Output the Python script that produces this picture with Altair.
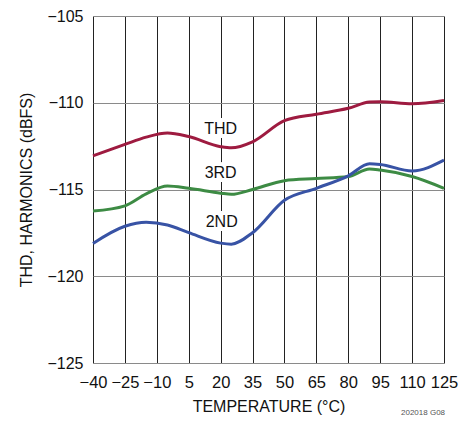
import altair as alt
import pandas as pd

temps = [-40, -25, -15, -5, 5, 20, 25, 35, 50, 65, 80, 90, 95, 110, 125]
thd = [-113.06, -112.40, -111.98, -111.74, -111.95, -112.53, -112.60, -112.25,
       -111.03, -110.66, -110.32, -109.96, -109.94, -110.06, -109.87]
third = [-116.24, -115.94, -115.25, -114.80, -114.93, -115.21, -115.28, -115.00,
         -114.49, -114.37, -114.25, -113.82, -113.88, -114.25, -114.93]
second = [-118.11, -117.12, -116.89, -117.05, -117.49, -118.09, -118.15, -117.49,
          -115.62, -114.93, -114.21, -113.52, -113.56, -113.93, -113.31]

series_names = ["THD", "3RD", "2ND"]
series_colors = ["#9e1b40", "#3d8b44", "#3853a5"]
x_ticks = [-40, -25, -10, 5, 20, 35, 50, 65, 80, 95, 110, 125]
y_ticks = [-125, -120, -115, -110, -105]

label_names = ["THD", "3RD", "2ND"]
label_x = [20, 20, 20.5]
label_y = [-111.5, -114.07, -116.88]

footnote = ["202018 G08"]

rows = []
for name, vals in zip(series_names, [thd, third, second]):
    for t, v in zip(temps, vals):
        rows.append({"series": name, "temp": t, "value": v})
df = pd.DataFrame(rows)
labels = pd.DataFrame({"name": label_names, "x": label_x, "y": label_y})
foot = pd.DataFrame({"t": footnote})

FONT = "Liberation Sans"

xscale = alt.Scale(domain=[-40, 125], nice=False, zero=False)
yscale = alt.Scale(domain=[-125, -105], nice=False, zero=False)

x_axis = alt.Axis(values=x_ticks, title="TEMPERATURE (°C)", grid=True,
                  gridColor="#222222", gridWidth=1, ticks=False, domain=False,
                  labelOverlap=False, labelFlush=False, labelBound=False,
                  labelPadding=11, titlePadding=8, labelFontSize=16.5,
                  titleFontSize=16, labelColor="#111", titleColor="#111",
                  titleFontWeight="normal", labelFont=FONT, titleFont=FONT)
y_axis = alt.Axis(values=y_ticks, title="THD, HARMONICS (dBFS)", grid=True,
                  gridColor="#8a8a8a", gridWidth=1.2, ticks=False, domain=False,
                  labelOverlap=False, labelFlush=False, labelBound=False,
                  labelPadding=10, titlePadding=12, labelFontSize=16,
                  titleFontSize=16, labelColor="#111", titleColor="#111",
                  titleFontWeight="normal", labelFont=FONT, titleFont=FONT)

lines = alt.Chart(df).mark_line(strokeWidth=3, interpolate="monotone").encode(
    x=alt.X("temp:Q", scale=xscale, axis=x_axis),
    y=alt.Y("value:Q", scale=yscale, axis=y_axis),
    color=alt.Color("series:N", scale=alt.Scale(domain=series_names, range=series_colors),
                    legend=None),
    detail="series:N",
)

halo = alt.Chart(labels).mark_text(fontSize=16, font=FONT, stroke="white", strokeWidth=8,
                                   fill="white", baseline="middle").encode(
    x=alt.X("x:Q", scale=xscale, axis=x_axis), y=alt.Y("y:Q", scale=yscale, axis=y_axis),
    text="name:N")
text = alt.Chart(labels).mark_text(fontSize=16, font=FONT, color="#111",
                                   baseline="middle").encode(
    x=alt.X("x:Q", scale=xscale, axis=x_axis), y=alt.Y("y:Q", scale=yscale, axis=y_axis),
    text="name:N")

foot_text = alt.Chart(foot).mark_text(fontSize=8, font=FONT, color="#555",
                                      baseline="middle", align="center").encode(
    x=alt.value(330), y=alt.value(397), text="t:N")

chart = alt.layer(lines, halo, text, foot_text).properties(
    width=351, height=347,
    autosize=alt.AutoSizeParams(type="none"),
    padding={"left": 85, "top": 8, "right": 20, "bottom": 57},
).configure_view(stroke="#111", strokeWidth=1.6).configure(background="white")

chart.save("out.html", embed_options={"renderer": "svg", "actions": False})
